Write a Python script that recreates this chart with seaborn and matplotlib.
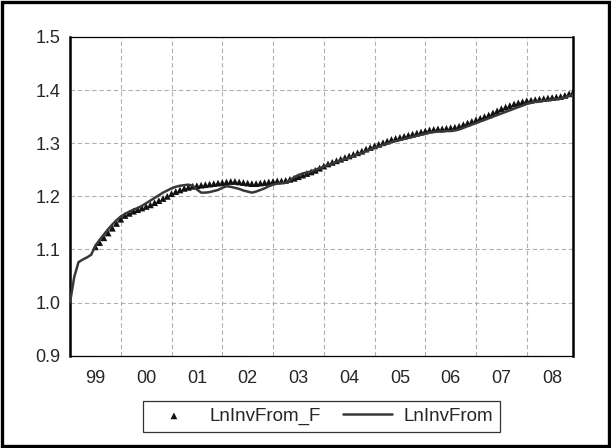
import numpy as np
import pandas as pd
import matplotlib
matplotlib.use("Agg")
import matplotlib.pyplot as plt
import matplotlib.patches as mpatches
from matplotlib.ticker import FixedLocator, FixedFormatter, NullFormatter
import seaborn as sns

# ---- data (monthly, 1999M1 - 2008M12) ----
start_year = 1999
actual = [
    1.000, 1.048, 1.076, 1.081, 1.085, 1.090, 1.107, 1.118, 1.128, 1.138, 1.147, 1.155,
    1.162, 1.167, 1.171, 1.175, 1.178, 1.182, 1.187, 1.192, 1.197, 1.202, 1.207, 1.211,
    1.215, 1.218, 1.220, 1.221, 1.222, 1.220, 1.213, 1.207, 1.207, 1.208, 1.210, 1.212,
    1.216, 1.219, 1.218, 1.216, 1.214, 1.211, 1.209, 1.207, 1.209, 1.212, 1.215, 1.219,
    1.222, 1.224, 1.225, 1.226, 1.230, 1.236, 1.240, 1.243, 1.245, 1.247, 1.250, 1.253,
    1.256, 1.259, 1.262, 1.265, 1.268, 1.270, 1.273, 1.276, 1.279, 1.282, 1.285, 1.288,
    1.291, 1.294, 1.297, 1.299, 1.302, 1.304, 1.306, 1.308, 1.310, 1.312, 1.314, 1.316,
    1.318, 1.320, 1.321, 1.322, 1.322, 1.323, 1.323, 1.324, 1.326, 1.329, 1.332, 1.335,
    1.338, 1.341, 1.344, 1.347, 1.350, 1.353, 1.356, 1.359, 1.362, 1.365, 1.368, 1.371,
    1.374, 1.376, 1.378, 1.379, 1.380, 1.381, 1.382, 1.383, 1.384, 1.386, 1.389, 1.392,
]
forecast_start_index = 6  # 1999M7
forecast = [
    1.105, 1.113, 1.122, 1.131, 1.140, 1.149,
    1.157, 1.164, 1.168, 1.172, 1.175, 1.178, 1.181, 1.184, 1.188, 1.192, 1.196, 1.200,
    1.205, 1.209, 1.212, 1.215, 1.217, 1.219, 1.220, 1.221, 1.222, 1.223, 1.224, 1.225,
    1.226, 1.227, 1.228, 1.228, 1.227, 1.226, 1.225, 1.224, 1.224, 1.225, 1.226, 1.227,
    1.228, 1.229, 1.229, 1.230, 1.232, 1.234, 1.237, 1.240, 1.243, 1.246, 1.249, 1.253,
    1.257, 1.261, 1.264, 1.267, 1.270, 1.273, 1.276, 1.279, 1.282, 1.285, 1.289, 1.292,
    1.295, 1.298, 1.301, 1.304, 1.307, 1.309, 1.311, 1.313, 1.315, 1.317, 1.319, 1.321,
    1.323, 1.325, 1.326, 1.327, 1.327, 1.328, 1.329, 1.330, 1.332, 1.335, 1.338, 1.341,
    1.344, 1.347, 1.350, 1.353, 1.357, 1.361, 1.365, 1.368, 1.371, 1.374, 1.376, 1.378,
    1.380, 1.381, 1.382, 1.383, 1.384, 1.385, 1.386, 1.387, 1.388, 1.390, 1.393, 1.397,
]
year_labels = ["99", "00", "01", "02", "03", "04", "05", "06", "07", "08"]
y_ticks = [0.9, 1.0, 1.1, 1.2, 1.3, 1.4, 1.5]
series_names = ["LnInvFrom_F", "LnInvFrom"]

# ---- frames ----
t_actual = [start_year + i / 12 for i in range(len(actual))]
t_fc = [start_year + (forecast_start_index + i) / 12 for i in range(len(forecast))]
df_a = pd.DataFrame({"t": t_actual, "v": actual})
df_f = pd.DataFrame({"t": t_fc, "v": forecast})

sns.set_style("white")
plt.rcParams["font.family"] = ["Liberation Sans", "DejaVu Sans"]

fig = plt.figure(figsize=(6.11, 4.48), dpi=100)
ax = fig.add_axes([70 / 611, 1 - 355.7 / 448, 503.3 / 611, 318.7 / 448])

sns.scatterplot(data=df_f, x="t", y="v", ax=ax, marker="^", s=24, color="#111111",
                edgecolor="none", linewidth=0, label=series_names[0], zorder=3)
sns.lineplot(data=df_a, x="t", y="v", ax=ax, color="#383838", linewidth=1.8,
             label=series_names[1], zorder=4)

ax.set_xlim(start_year, start_year + (len(actual) - 1) / 12)
ax.set_ylim(0.9, 1.5)
ax.set_xlabel("")
ax.set_ylabel("")

ax.set_yticks(y_ticks)
ax.set_yticklabels([f"{v:.1f}" for v in y_ticks])

n_years = len(year_labels)
major = [start_year + k for k in range(n_years)]
minor = [start_year + k + q / 4 for k in range(n_years) for q in (1, 2, 3)]
minor_labels = [year_labels[k] if q == 2 else "" for k in range(n_years) for q in (1, 2, 3)]
ax.xaxis.set_major_locator(FixedLocator(major))
ax.xaxis.set_major_formatter(NullFormatter())
ax.xaxis.set_minor_locator(FixedLocator(minor))
ax.xaxis.set_minor_formatter(FixedFormatter(minor_labels))

ax.tick_params(axis="x", which="major", direction="out", length=6, width=1, color="black")
ax.tick_params(axis="x", which="minor", direction="out", length=4, width=1, color="black",
               pad=6, labelsize=13)
ax.tick_params(axis="y", which="major", direction="out", length=6, width=1, color="black",
               pad=1, labelsize=13)

ax.grid(True, which="major", axis="both", linestyle=(0, (4, 2.5)), color="#b0b0b0", linewidth=0.8)
ax.set_axisbelow(True)

for side in ["left", "right"]:
    ax.spines[side].set_linewidth(1.8)
    ax.spines[side].set_color("black")
for side in ["top", "bottom"]:
    ax.spines[side].set_linewidth(0.9)
    ax.spines[side].set_color("black")
for sp in ax.spines.values():
    sp.set_visible(True)

handles, labels = ax.get_legend_handles_labels()
order = [labels.index(n) for n in series_names]
if ax.get_legend() is not None:
    ax.get_legend().remove()
leg = fig.legend([handles[i] for i in order], [labels[i] for i in order],
                 loc="center", bbox_to_anchor=(321.3 / 611, 1 - 416.3 / 448),
                 ncol=2, frameon=True, fancybox=False, fontsize=13.5,
                 handlelength=2.6, columnspacing=1.2, handletextpad=0.6,
                 borderpad=0.35, markerscale=1.0)
leg.get_frame().set_edgecolor("black")
leg.get_frame().set_linewidth(0.9)

border = mpatches.Rectangle((0.0035, 0.0045), 0.993, 0.991, transform=fig.transFigure,
                            fill=False, edgecolor="black", linewidth=2.4)
fig.patches.append(border)

fig.savefig("out.png", dpi=100)
